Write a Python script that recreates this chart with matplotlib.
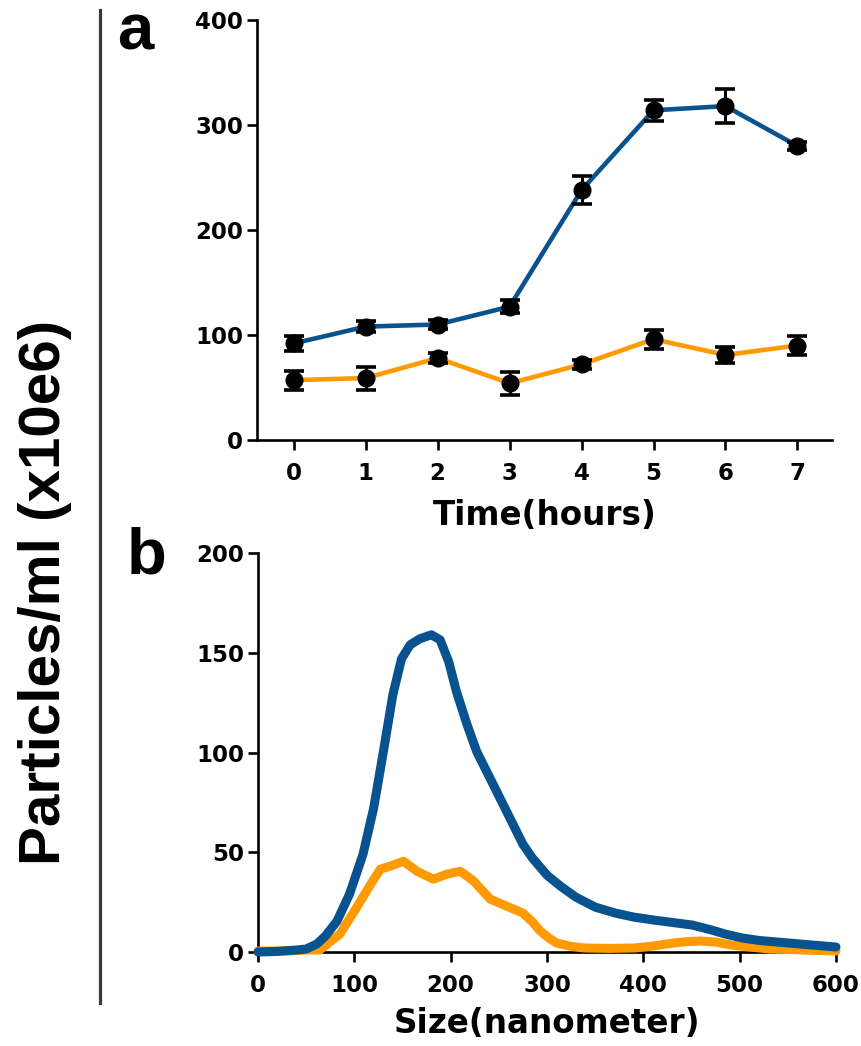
import matplotlib
matplotlib.use("Agg")
import matplotlib.pyplot as plt
from matplotlib.lines import Line2D

# ---- data: panel a (time course) ----
hours = [0, 1, 2, 3, 4, 5, 6, 7]
blue_a = [92, 108, 110, 127, 238, 314, 318, 280]
blue_a_err = [7, 5, 4, 6, 13, 10, 16, 4]
orange_a = [57, 59, 78, 54, 72, 96, 81, 90]
orange_a_err = [9, 11, 5, 11, 4, 9, 8, 9]

# ---- data: panel b (size distribution) ----
size_blue = [0, 20, 40, 50, 61, 70, 82, 95, 109, 120, 130, 140, 149, 158, 168,
             180, 189, 198, 206, 217, 227, 241, 258, 275, 285, 300, 314, 330,
             350, 371, 390, 411, 430, 451, 471, 485, 503, 520, 551, 575, 600]
blue_b = [0, 0.3, 1, 1.5, 4, 8, 15.5, 29, 49, 72, 100, 129, 147, 154, 157,
          159, 156.5, 145.5, 130.5, 114, 100.5, 87, 70.5, 54, 47, 38.5, 33, 27.5,
          22.5, 19.5, 17.5, 16, 14.8, 13.5, 11, 9, 7, 5.8, 4.5, 3.5, 2.5]
size_orange = [0, 30, 50, 64, 85, 102, 117, 127, 137, 151, 165, 182, 196, 210,
               224, 241, 258, 275, 285, 293, 302, 310, 325, 339, 365, 391, 410,
               431, 445, 459, 475, 491, 510, 531, 600]
orange_b = [0.5, 0.5, 1, 1, 9, 22, 34, 41.5, 43, 45.5, 40.5, 36.5, 39, 40.5,
            35.5, 26.5, 23, 19.5, 15, 10.5, 7, 4.5, 2.8, 2, 1.8, 2, 3,
            4.5, 5.2, 5.5, 5, 3.5, 2.5, 1.5, 0.5]

xticks_a = [0, 1, 2, 3, 4, 5, 6, 7]
yticks_a = [0, 100, 200, 300, 400]
xticks_b = [0, 100, 200, 300, 400, 500, 600]
yticks_b = [0, 50, 100, 150, 200]

BLUE = "#08538f"
ORANGE = "#ff9a00"
TICKFONT = "DejaVu Sans"
LABFONT = "Liberation Sans"

W, H = 862, 1046
fig = plt.figure(figsize=(W / 100, H / 100), dpi=100)

ax1 = fig.add_axes([257 / W, 1 - 440 / H, (832 - 257) / W, 420 / H])
ax2 = fig.add_axes([258 / W, 1 - 952 / H, (836 - 258) / W, 399 / H])


def style(ax):
    for s in ["top", "right"]:
        ax.spines[s].set_visible(False)
    for s in ["left", "bottom"]:
        ax.spines[s].set_linewidth(1.9)
    ax.tick_params(axis="both", which="major", length=7, width=1.9,
                   labelsize=16.5, pad=3, color="k")
    ax.tick_params(axis="x", pad=9)
    for lab in ax.get_xticklabels() + ax.get_yticklabels():
        lab.set_fontfamily(TICKFONT)
        lab.set_fontweight("bold")


# panel a
ax1.plot(hours, blue_a, color=BLUE, lw=3.3, zorder=2)
ax1.plot(hours, orange_a, color=ORANGE, lw=3.3, zorder=2)
for ys, es in [(blue_a, blue_a_err), (orange_a, orange_a_err)]:
    ax1.errorbar(hours, ys, yerr=es, fmt="none", ecolor="k", elinewidth=2.2,
                 capsize=7, capthick=2.6, zorder=3)
    ax1.plot(hours, ys, "o", color="k", ms=12, zorder=4)
ax1.set_xlim(-0.51, 7.48)
ax1.set_ylim(0, 400)
ax1.set_xticks(xticks_a)
ax1.set_yticks(yticks_a)
style(ax1)
ax1.set_xlabel("Time(hours)", fontfamily=TICKFONT, fontweight="bold",
               fontsize=23.5, labelpad=10)

# panel b
ax2.plot(size_orange, orange_b, color=ORANGE, lw=6.5, solid_capstyle="round",
         solid_joinstyle="round", clip_on=False, zorder=3)
ax2.plot(size_blue, blue_b, color=BLUE, lw=6.5, solid_capstyle="round",
         solid_joinstyle="round", clip_on=False, zorder=4)
ax2.set_xlim(0, 600)
ax2.set_ylim(0, 200)
ax2.set_xticks(xticks_b)
ax2.set_yticks(yticks_b)
style(ax2)
ax2.set_xlabel("Size(nanometer)", fontfamily=TICKFONT, fontweight="bold",
               fontsize=23.5, labelpad=7)

# shared y label, separator line, panel letters
fig.text(45 / W, 1 - 592 / H, "Particles/ml (x10e6)", rotation=90,
         ha="center", va="center", fontfamily=LABFONT, fontweight="bold",
         fontsize=42)
fig.add_artist(Line2D([100 / W, 100 / W], [1 - 10 / H, 1 - 1003 / H],
                      color="#3d3935", lw=2.3, transform=fig.transFigure))
fig.text(135 / W, 1 - 50 / H, "a", ha="center", va="baseline",
         fontfamily=LABFONT, fontweight="bold", fontsize=47)
fig.text(147 / W, 1 - 573 / H, "b", ha="center", va="baseline",
         fontfamily=LABFONT, fontweight="bold", fontsize=47)

fig.savefig("out.png", dpi=100)
